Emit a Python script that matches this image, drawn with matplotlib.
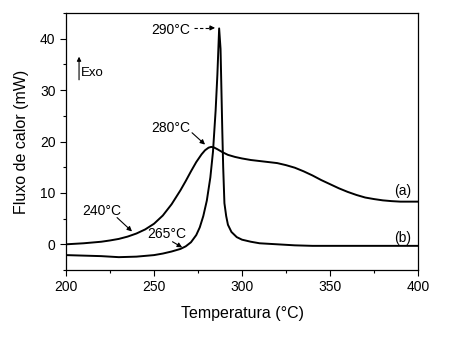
# DSC curves (a) and (b) - heat flow vs temperature
import matplotlib
matplotlib.use("Agg")
import matplotlib.pyplot as plt
from matplotlib.ticker import MultipleLocator

plt.rcParams['font.family'] = ['Liberation Sans', 'DejaVu Sans']

# Curve (a)
temp_a = [200, 205, 210, 215, 220, 225, 230, 235, 240, 245, 250, 255, 260, 265, 268,
          271, 274, 277, 279, 281, 282.5, 284, 286, 289, 292, 296, 300, 305, 310, 315,
          320, 325, 330, 335, 340, 345, 350, 355, 360, 365, 370, 375, 380, 385, 390,
          395, 400]
flux_a = [0.0, 0.1, 0.2, 0.35, 0.5, 0.75, 1.05, 1.5, 2.1, 2.9, 4.0, 5.6, 7.8, 10.5, 12.3,
          14.2, 16.0, 17.5, 18.3, 18.8, 18.95, 18.85, 18.5, 17.9, 17.4, 17.0, 16.7, 16.4, 16.2, 16.0,
          15.8, 15.4, 14.9, 14.2, 13.4, 12.5, 11.7, 10.9, 10.2, 9.6, 9.1, 8.8, 8.55, 8.4, 8.3,
          8.3, 8.3]

# Curve (b)
temp_b = [200, 210, 220, 230, 240, 250, 255, 260, 265, 268, 271, 274, 276, 278, 280,
          282, 283.5, 285, 286, 287, 287.8, 288.3, 288.8, 289.3, 290, 291, 292, 294, 297,
          300, 305, 310, 320, 330, 340, 400]
flux_b = [-2.1, -2.2, -2.3, -2.5, -2.4, -2.1, -1.8, -1.4, -0.9, -0.4, 0.4, 1.8, 3.3, 5.5, 8.5,
          13.0, 18.0, 26.0, 33.0, 42.0, 38.0, 30.0, 22.0, 15.0, 8.0, 5.5, 3.8, 2.4, 1.4,
          0.9, 0.5, 0.2, 0.0, -0.2, -0.3, -0.3]

fig = plt.figure(figsize=(4.62, 3.53), dpi=100)
ax = fig.add_axes([0.1429, 0.2351, 0.7619, 0.7281])

ax.plot(temp_a, flux_a, color='black', lw=1.4)
ax.plot(temp_b, flux_b, color='black', lw=1.4)

ax.set_xlim(200, 400)
ax.set_ylim(-5, 45)
ax.xaxis.set_major_locator(MultipleLocator(50))
ax.xaxis.set_minor_locator(MultipleLocator(25))
ax.yaxis.set_major_locator(MultipleLocator(10))
ax.yaxis.set_minor_locator(MultipleLocator(5))
ax.tick_params(which='major', direction='out', length=4, width=0.8, labelsize=10)
ax.tick_params(which='minor', direction='out', length=2.5, width=0.8)
for s in ax.spines.values():
    s.set_linewidth(0.9)

ax.set_xlabel('Temperatura (°C)', fontsize=11.5, labelpad=8)
ax.set_ylabel('Fluxo de calor (mW)', fontsize=11.5, labelpad=8)

arrow = dict(arrowstyle='-|>', color='black', lw=0.8, mutation_scale=7,
             shrinkA=0, shrinkB=0)

# annotations
ax.text(270.5, 41.7, '290°C', fontsize=10, ha='right', va='center')
ax.plot([272.7, 282.0], [42.1, 42.1], color='black', lw=0.8, ls=(0, (3, 2)))
ax.annotate('', xy=(284.7, 42.1), xytext=(281.5, 42.1), arrowprops=arrow)

ax.text(259.4, 22.7, '280°C', fontsize=10, ha='center', va='center')
ax.annotate('', xy=(279.0, 19.4), xytext=(271.6, 21.7), arrowprops=arrow)

ax.text(220.5, 6.4, '240°C', fontsize=10, ha='center', va='center')
ax.annotate('', xy=(237.5, 2.5), xytext=(229.0, 5.2), arrowprops=arrow)

ax.text(257.1, 2.1, '265°C', fontsize=10, ha='center', va='center')
ax.annotate('', xy=(266.0, -0.6), xytext=(260.5, 0.5), arrowprops=arrow)

ax.text(391.5, 10.3, '(a)', fontsize=10, ha='center', va='center')
ax.text(391.0, 1.2, '(b)', fontsize=10, ha='center', va='center')

ax.annotate('', xy=(207.4, 36.5), xytext=(207.4, 32.0),
            arrowprops=dict(arrow, mutation_scale=6))
ax.text(208.2, 33.4, 'Exo', fontsize=9.5, ha='left', va='center')

fig.savefig('out.png', dpi=100)
